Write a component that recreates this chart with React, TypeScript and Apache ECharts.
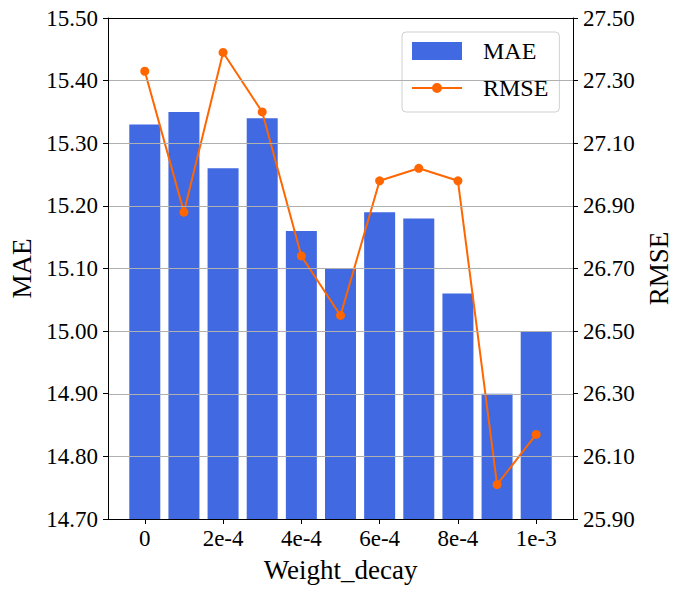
import React, { useEffect, useRef } from "react";
import * as echarts from "echarts";

const categories = ["0", "1e-4", "2e-4", "3e-4", "4e-4", "5e-4", "6e-4", "7e-4", "8e-4", "9e-4", "1e-3"];
const maeValues = [15.33, 15.35, 15.26, 15.34, 15.16, 15.10, 15.19, 15.18, 15.06, 14.90, 15.00];
const rmseValues = [27.33, 26.88, 27.39, 27.20, 26.74, 26.55, 26.98, 27.02, 26.98, 26.01, 26.17];
const xTickIndices = [0, 2, 4, 6, 8, 10];
const maeTicks = [14.7, 14.8, 14.9, 15.0, 15.1, 15.2, 15.3, 15.4, 15.5];
const rmseTicks = [25.9, 26.1, 26.3, 26.5, 26.7, 26.9, 27.1, 27.3, 27.5];

const FONT = "'Liberation Serif', 'Times New Roman', serif";
const BAR_COLOR = "#4169e1";
const LINE_COLOR = "#ff6600";
const LINE_ICON = "path://M0,8.1H50V9.9H0Z M30,9A5,5 0 1,1 20,9A5,5 0 1,1 30,9Z M0,4H0.01V14H0Z";

export default function App() {
  const ref = useRef<HTMLDivElement>(null);
  useEffect(() => {
    if (!ref.current) return;
    const chart = echarts.init(ref.current, undefined, { renderer: "svg" });
    const xMin = -0.94;
    const xMax = categories.length - 1 + 0.94;
    const option: any = {
      animation: false,
      backgroundColor: "#ffffff",
      textStyle: { fontFamily: FONT, color: "#000" },
      grid: { left: 108, right: 107, top: 18, bottom: 75, containLabel: false, outerBoundsMode: "none" },
      legend: {
        orient: "vertical",
        left: 402,
        top: 32,
        padding: [7, 11, 12, 10],
        itemGap: 13,
        itemWidth: 50,
        itemHeight: 18,
        symbolKeepAspect: true,
        borderColor: "#d0d0d0",
        borderWidth: 1,
        borderRadius: 4,
        backgroundColor: "rgba(255,255,255,0.8)",
        textStyle: { fontFamily: FONT, fontSize: 24, color: "#000", padding: [0, 0, 0, 16] },
        data: [
          { name: "MAE", icon: "rect" },
          { name: "RMSE", icon: LINE_ICON, itemStyle: { color: LINE_COLOR, borderWidth: 0 } },
        ],
      },
      xAxis: [
        {
          type: "value",
          min: xMin,
          max: xMax,
          z: 5,
          name: "Weight_decay",
          nameLocation: "middle",
          nameGap: 37,
          nameTextStyle: { fontFamily: FONT, fontSize: 27, color: "#000" },
          axisLine: { show: true, onZero: false, lineStyle: { color: "#000", width: 1 } },
          axisTick: { show: true, length: 5, lineStyle: { color: "#000" }, customValues: xTickIndices },
          axisLabel: {
            show: true,
            margin: 8,
            fontFamily: FONT,
            fontSize: 23,
            color: "#000",
            customValues: xTickIndices,
            formatter: (v: number) => categories[Math.round(v)] ?? "",
          },
          splitLine: { show: false },
        },
        {
          type: "value",
          position: "top",
          min: xMin,
          max: xMax,
          z: 5,
          axisLine: { show: true, onZero: false, lineStyle: { color: "#000", width: 1 } },
          axisTick: { show: false },
          axisLabel: { show: false },
          splitLine: { show: false },
        },
      ],
      yAxis: [
        {
          type: "value",
          min: maeTicks[0],
          max: maeTicks[maeTicks.length - 1],
          interval: 0.1,
          position: "left",
          z: 5,
          name: "MAE",
          nameLocation: "middle",
          nameRotate: 90,
          nameGap: 73,
          nameTextStyle: { fontFamily: FONT, fontSize: 27, color: "#000" },
          axisLine: { show: true, onZero: false, lineStyle: { color: "#000", width: 1 } },
          axisTick: { show: true, length: 5, lineStyle: { color: "#000" }, customValues: maeTicks },
          axisLabel: {
            margin: 10,
            fontFamily: FONT,
            fontSize: 23,
            color: "#000",
            customValues: maeTicks,
            formatter: (v: number) => v.toFixed(2),
          },
          splitLine: { show: false },
        },
        {
          type: "value",
          min: rmseTicks[0],
          max: rmseTicks[rmseTicks.length - 1],
          interval: 0.2,
          position: "right",
          z: 5,
          name: "RMSE",
          nameLocation: "middle",
          nameRotate: 90,
          nameGap: 69,
          nameTextStyle: { fontFamily: FONT, fontSize: 27, color: "#000" },
          axisLine: { show: true, onZero: false, lineStyle: { color: "#000", width: 1 } },
          axisTick: { show: true, length: 5, lineStyle: { color: "#000" }, customValues: rmseTicks },
          axisLabel: {
            margin: 10,
            fontFamily: FONT,
            fontSize: 23,
            color: "#000",
            customValues: rmseTicks,
            formatter: (v: number) => v.toFixed(2),
          },
          splitLine: { show: false },
        },
      ],
      series: [
        {
          name: "MAE",
          type: "bar",
          xAxisIndex: 0,
          yAxisIndex: 0,
          barWidth: 31,
          z: 2,
          itemStyle: { color: BAR_COLOR },
          data: maeValues.map((v, i) => [i, v]),
          markLine: {
            silent: true,
            symbol: "none",
            label: { show: false },
            lineStyle: { color: "#b0b0b0", width: 1, type: "solid" },
            data: maeTicks.slice(1, -1).map((v) => ({ yAxis: v })),
          },
        },
        {
          name: "RMSE",
          type: "line",
          xAxisIndex: 0,
          yAxisIndex: 1,
          z: 4,
          symbol: "circle",
          symbolSize: 9,
          itemStyle: { color: LINE_COLOR },
          lineStyle: { color: LINE_COLOR, width: 2 },
          data: rmseValues.map((v, i) => [i, v]),
        },
      ],
    };
    chart.setOption(option);
    return () => chart.dispose();
  }, []);
  return (
    <div
      ref={ref}
      style={{ position: "fixed", left: 0, top: 0, width: 680, height: 594, background: "#fff" }}
    />
  );
}
